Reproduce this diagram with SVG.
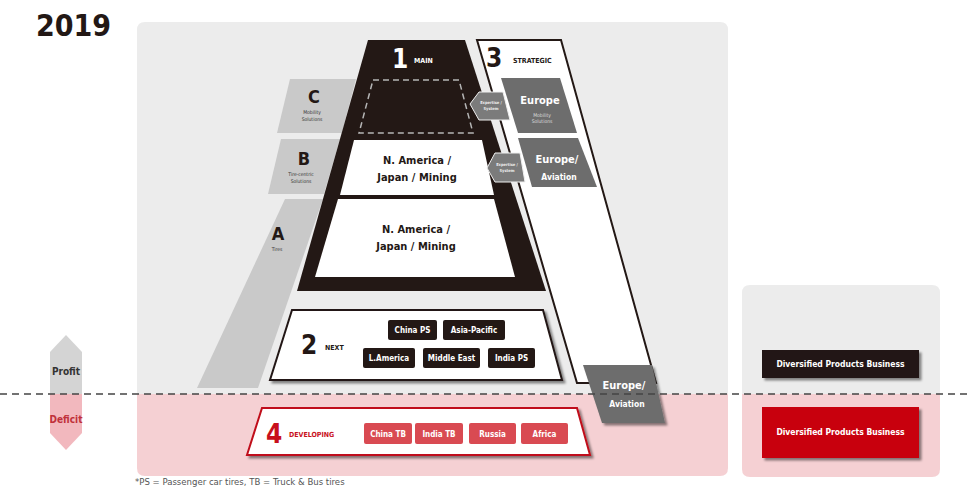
<svg xmlns="http://www.w3.org/2000/svg" width="968" height="490" viewBox="0 0 968 490">
<defs>
<style>
text{font-family:"DejaVu Sans Condensed","DejaVu Sans","Liberation Sans",sans-serif;font-weight:bold;}
.c{text-anchor:middle;}
.big{font-size:26px;}
.tag{font-size:7px;}
.wt{fill:#ffffff;}
.dk{fill:#231815;}
.tier{fill:#c9c9c9;}
.tiny{font-size:5px;font-weight:normal;fill:#333;}
.gbox{fill:#6d6d6d;}
.hex{fill:#7b7b7b;stroke:#f0f0f0;stroke-width:1;}
.chipb{fill:#231815;}
.chipr{fill:#d94a52;}
.chipt{font-size:8px;fill:#fff;text-anchor:middle;}
.mt{font-size:11px;fill:#231815;text-anchor:middle;}
</style>
<filter id="sh" x="-10%" y="-20%" width="130%" height="150%">
<feDropShadow dx="2.5" dy="2.5" stdDeviation="1.2" flood-color="#000" flood-opacity="0.45"/>
</filter>
</defs>
<rect width="968" height="490" fill="#ffffff"/>
<text x="36" y="36" font-size="30" class="dk">2019</text>

<g id="panel-main">
<path d="M145,22 H720 Q728,22 728,30 V394 H137 V30 Q137,22 145,22 Z" fill="#ececec"/>
<path d="M137,394 H728 V468 Q728,476 720,476 H145 Q137,476 137,468 Z" fill="#f5d0d3"/>
</g>
<g id="panel-right">
<path d="M750,285 H932 Q940,285 940,293 V394 H742 V293 Q742,285 750,285 Z" fill="#ececec"/>
<path d="M742,394 H940 V469 Q940,477 932,477 H750 Q742,477 742,469 Z" fill="#f5d0d3"/>
</g>

<g id="tier-C">
<polygon class="tier" points="290,79 356,79 342,133 277,133"/>
<text x="314" y="103" font-size="18" class="dk c">C</text>
<text x="312" y="114" class="tiny c">Mobility</text>
<text x="312" y="121" class="tiny c">Solutions</text>
</g>
<g id="tier-B">
<polygon class="tier" points="281,139 340,139 324,194 268,194"/>
<text x="304" y="165" font-size="18" class="dk c">B</text>
<text x="301" y="176" class="tiny c">Tire-centric</text>
<text x="301" y="183" class="tiny c">Solutions</text>
</g>
<g id="tier-A">
<polygon class="tier" points="285,199 323,199 258,388 197,388"/>
<text x="278" y="240" font-size="18" class="dk c">A</text>
<text x="277" y="251" class="tiny c">Tires</text>
</g>

<g id="strategic">
<polygon points="477,40 561,40 656,383 577,383" fill="#ffffff" stroke="#231815" stroke-width="2"/>
<text x="486" y="67" class="big dk">3</text>
<text x="513" y="63" class="tag dk">STRATEGIC</text>
</g>

<g id="main">
<polygon points="368,40 465,40 546,291 297,291" fill="#231815"/>
<text x="392" y="68" class="big wt">1</text>
<text x="414" y="63" class="tag wt">MAIN</text>
<polygon points="373,80 459,80 473,133 359,133" fill="none" stroke="#b5b5b5" stroke-width="1.5" stroke-dasharray="6,4"/>
</g>
<g id="main-B">
<polygon points="354,140 482,140 494,195 340,195" fill="#ffffff"/>
<text x="417" y="164" class="mt">N. America /</text>
<text x="417" y="181" class="mt">Japan / Mining</text>
</g>
<g id="main-A">
<polygon points="338,199 494,199 515,277 315,277" fill="#ffffff"/>
<text x="416" y="233" class="mt">N. America /</text>
<text x="416" y="250" class="mt">Japan / Mining</text>
</g>

<g id="strategic-C">
<polygon class="gbox" points="501,78 560,78 577,133 518,133"/>
<text x="540" y="104" font-size="11" class="wt c">Europe</text>
<text x="542" y="117" class="tiny c" style="fill:#dddddd">Mobility</text>
<text x="542" y="123" class="tiny c" style="fill:#dddddd">Solutions</text>
</g>
<g id="link-C">
<polygon class="hex" points="470,104 479,92 503,92 510,120 479,120"/>
<text x="491" y="104" class="c" font-size="4" font-weight="normal" fill="#eee">Expertise /</text>
<text x="491" y="110" class="c" font-size="4" font-weight="normal" fill="#eee">System</text>
</g>
<g id="strategic-B">
<polygon class="gbox" points="518,138 578,138 597,187 532,187"/>
<text x="557" y="163" font-size="11" class="wt c">Europe/</text>
<text x="559" y="180" font-size="8.5" class="wt c">Aviation</text>
</g>
<g id="link-B">
<polygon class="hex" points="487,168 495,153 520,153 525,182 495,182"/>
<text x="507" y="166" class="c" font-size="4" font-weight="normal" fill="#eee">Expertise /</text>
<text x="507" y="172" class="c" font-size="4" font-weight="normal" fill="#eee">System</text>
</g>

<g id="next">
<polygon points="292,310 543,310 562,380 270,380" fill="#ffffff" stroke="#231815" stroke-width="2" filter="url(#sh)"/>
<text x="301" y="354" class="big dk">2</text>
<text x="325" y="350" class="tag dk">NEXT</text>
<rect class="chipb" x="388" y="320" width="49" height="20" rx="2"/>
<text class="chipt" x="412.5" y="333">China PS</text>
<rect class="chipb" x="443" y="320" width="62" height="20" rx="2"/>
<text class="chipt" x="474" y="333">Asia-Pacific</text>
<rect class="chipb" x="363" y="348" width="52" height="20" rx="2"/>
<text class="chipt" x="389" y="361">L.America</text>
<rect class="chipb" x="423" y="348" width="57" height="20" rx="2"/>
<text class="chipt" x="451.5" y="361">Middle East</text>
<rect class="chipb" x="488" y="348" width="47" height="20" rx="2"/>
<text class="chipt" x="511.5" y="361">India PS</text>
</g>

<g id="developing">
<polygon points="262,408 577,408 590,455 247,455" fill="#ffffff" stroke="#c0101a" stroke-width="2" filter="url(#sh)"/>
<text x="266" y="443" class="big" fill="#c8101c">4</text>
<text x="289" y="437" class="tag" fill="#c8101c">DEVELOPING</text>
<rect class="chipr" x="364" y="423" width="48" height="21" rx="2"/>
<text class="chipt" x="388" y="437">China TB</text>
<rect class="chipr" x="415" y="423" width="48" height="21" rx="2"/>
<text class="chipt" x="439" y="437">India TB</text>
<rect class="chipr" x="469" y="423" width="47" height="21" rx="2"/>
<text class="chipt" x="492.5" y="437">Russia</text>
<rect class="chipr" x="521" y="423" width="47" height="21" rx="2"/>
<text class="chipt" x="544.5" y="437">Africa</text>
</g>

<g id="strategic-deficit">
<polygon class="gbox" points="583,365 652,365 665,423 602,423" filter="url(#sh)"/>
<text x="624" y="389" font-size="11" class="wt c">Europe/</text>
<text x="627" y="407" font-size="8.5" class="wt c">Aviation</text>
</g>

<g id="profit-deficit">
<polygon points="66,335 82,352 82,394 50,394 50,352" fill="#d4d4d4"/>
<polygon points="50,394 82,394 82,433 66,450 50,433" fill="#f2b8be"/>
<text x="66" y="375" font-size="10" class="c" fill="#333">Profit</text>
<text x="66" y="423" font-size="10" class="c" fill="#c0303a">Deficit</text>
</g>

<g id="diversified-profit">
<rect x="762" y="350" width="157" height="28" class="chipb" filter="url(#sh)"/>
<text x="840.5" y="367" font-size="8.5" class="wt c">Diversified Products Business</text>
</g>
<g id="diversified-deficit">
<rect x="762" y="407" width="157" height="51" fill="#c8000a" filter="url(#sh)"/>
<text x="840.5" y="435" font-size="8.5" class="wt c">Diversified Products Business</text>
</g>

<line x1="0" y1="394" x2="968" y2="394" stroke="#444" stroke-width="1.5" stroke-dasharray="7,5"/>

<text x="135" y="485" font-size="9.5" fill="#555" style="font-weight:normal">*PS = Passenger car tires, TB = Truck &amp; Bus tires</text>
</svg>
